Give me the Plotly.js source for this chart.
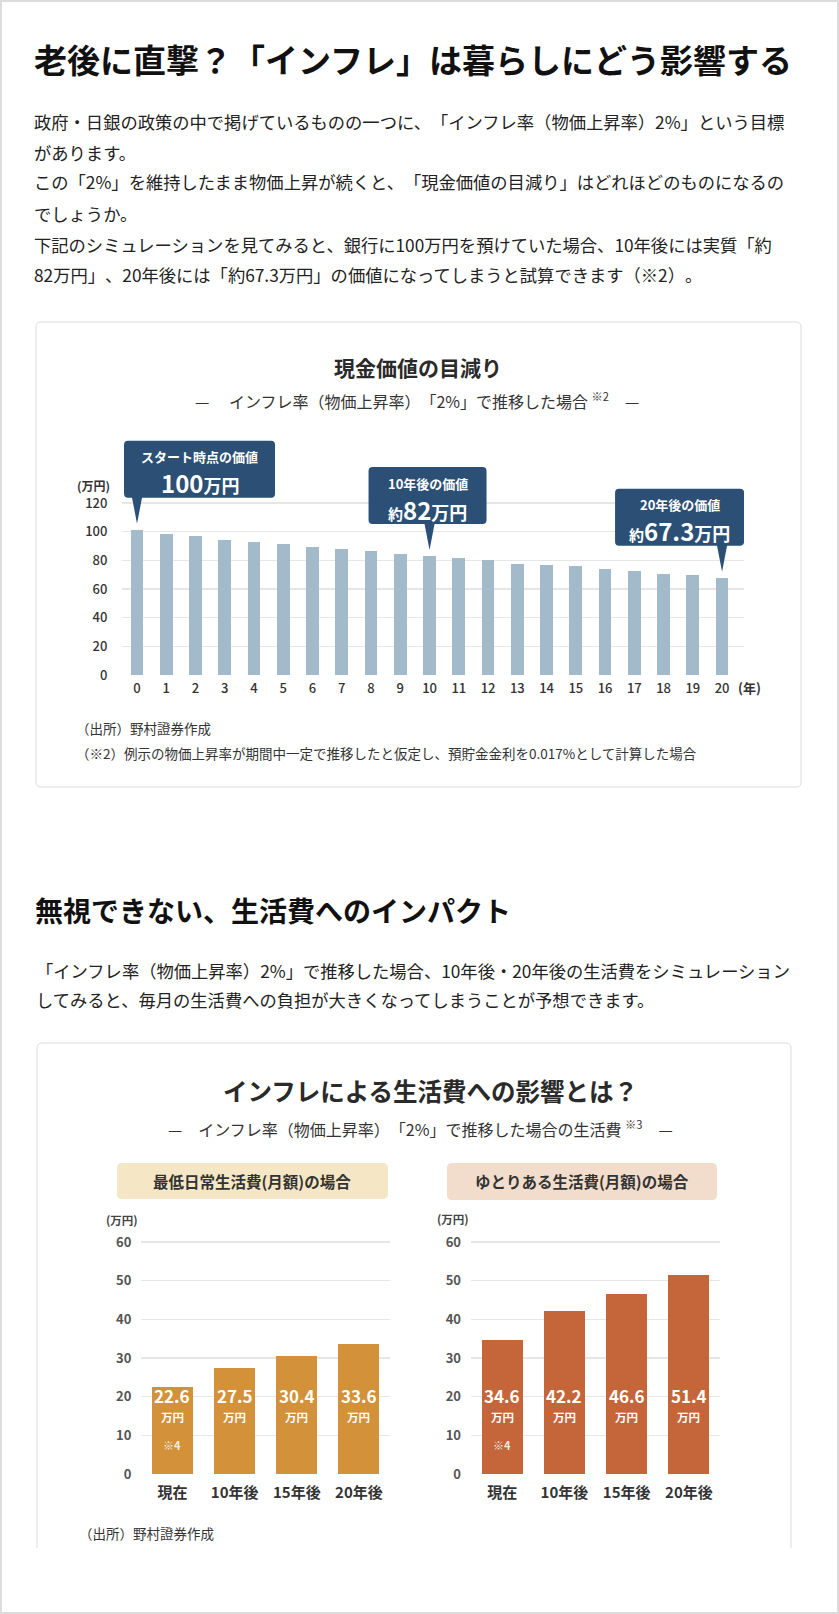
<!DOCTYPE html>
<html>
<head>
<meta charset="utf-8">
<script src="https://cdn.plot.ly/plotly-3.0.1.min.js"></script>
<style>
html,body{margin:0;padding:0;background:#fff;}
#page{width:839px;height:1614px;}
svg text{text-spacing-trim:space-all;}
</style>
</head>
<body>
<div id="page"></div>
<script>
// ---------------- data ----------------
const years = [0,1,2,3,4,5,6,7,8,9,10,11,12,13,14,15,16,17,18,19,20];
const yearTickLabels = ['0','1','2','3','4','5','6','7','8','9','10','11','12','13','14','15','16','17','18','19','20'];
const cashValue = [101.4,98.4,97.2,94.4,93.0,91.6,89.6,88.1,86.3,84.2,83.0,81.6,80.2,77.7,77.0,75.8,74.0,72.6,70.7,69.8,67.9];
const cashTicks = [0,20,40,60,80,100,120];
const cashTickLabels = ['0','20','40','60','80','100','120'];

const calloutYears = [0,10,20];
const calloutTitles = ['スタート時点の価値','10年後の価値','20年後の価値'];
const calloutPrefixes = ['','約','約'];
const calloutAmounts = ['100','82','67.3'];

const costCategories = ['現在','10年後','15年後','20年後'];
const minimumCost = [22.6,27.5,30.4,33.6];
const comfortableCost = [34.6,42.2,46.6,51.4];
const costNotes = ['※4','','',''];
const costTicks = [0,10,20,30,40,50,60];
const costTickLabels = ['0','10','20','30','40','50','60'];

// ---------------- helpers ----------------
const W = 839, H = 1614;
const X = p => p / W;
const Y = p => 1 - p / H;
const FONT = "'Noto Sans CJK JP', 'Noto Sans', sans-serif";

const annotations = [];
function txt(text, x, y, size, o) {
  o = o || {};
  annotations.push({
    text: text, xref: 'paper', yref: 'paper', x: X(x), y: Y(y),
    xanchor: o.anchor || 'left', yanchor: 'middle', showarrow: false,
    borderpad: 0, borderwidth: 0,
    font: {family: FONT, size: size, color: o.color || '#222', weight: o.weight || 400}
  });
}
function pixRectPath(x0, y0, x1, y1, r) {
  return `M ${x0+r},${-y0} L ${x1-r},${-y0} Q ${x1},${-y0} ${x1},${-(y0+r)} L ${x1},${-(y1-r)} Q ${x1},${-y1} ${x1-r},${-y1} L ${x0+r},${-y1} Q ${x0},${-y1} ${x0},${-(y1-r)} L ${x0},${-(y0+r)} Q ${x0},${-y0} ${x0+r},${-y0} Z`;
}
function paperShape(path, fill, line, layer) {
  return {type: 'path', xref: 'paper', yref: 'paper', xsizemode: 'pixel', ysizemode: 'pixel',
          xanchor: 0, yanchor: 1, path: path, fillcolor: fill, line: line, layer: layer || 'below'};
}

const shapes = [];
// page border
shapes.push({type: 'rect', xref: 'paper', yref: 'paper', x0: 0, x1: 1, y0: 0, y1: 1,
             line: {color: '#dcdcdc', width: 4}, fillcolor: 'rgba(0,0,0,0)', layer: 'above'});
// card 1
shapes.push(paperShape(pixRectPath(36, 322, 801, 787, 5), '#ffffff', {color: '#dcdcdc', width: 1}));
// card 2 (cut at the bottom)
shapes.push(paperShape(`M 37,-1548 L 37,-1048 Q 37,-1043 42,-1043 L 786,-1043 Q 791,-1043 791,-1048 L 791,-1548`,
                       'rgba(0,0,0,0)', {color: '#dcdcdc', width: 1}));
// panel header boxes
shapes.push(paperShape(pixRectPath(117, 1163, 388, 1199, 5), '#f5e7c6', {width: 0}));
shapes.push(paperShape(pixRectPath(447, 1163, 717, 1200, 5), '#f2ddcc', {width: 0}));

// callouts on chart 1 (pixel offsets relative to bar top)
const calloutGeom = [
  {l: -13, r: 138, cx: 62.5},
  {l: -61, r: 57, cx: -2},
  {l: -107, r: 22, cx: -42.5}
];
function calloutPath(l, r) {
  const t = 89, b = 32, rad = 4, pl = -5, pr = 5, tip = 6;
  return `M ${l+rad},${t} L ${r-rad},${t} Q ${r},${t} ${r},${t-rad} L ${r},${b+rad} Q ${r},${b} ${r-rad},${b} L ${pr},${b} L 0,${tip} L ${pl},${b} L ${l+rad},${b} Q ${l},${b} ${l},${b+rad} L ${l},${t-rad} Q ${l},${t} ${l+rad},${t} Z`;
}
calloutYears.forEach((yr, i) => {
  const v = cashValue[years.indexOf(yr)];
  const g = calloutGeom[i];
  shapes.push({type: 'path', xref: 'x', yref: 'y', xsizemode: 'pixel', ysizemode: 'pixel',
               xanchor: yr, yanchor: v, path: calloutPath(g.l, g.r),
               fillcolor: '#2c5075', line: {width: 0}, layer: 'above'});
  annotations.push({xref: 'x', yref: 'y', x: yr, y: v, xshift: g.cx, yshift: 73, showarrow: false,
    text: calloutTitles[i], borderpad: 0, borderwidth: 0,
    font: {family: FONT, size: 13, color: '#ffffff', weight: 700}});
  const pre = calloutPrefixes[i] ? `<span style="font-size:15px">${calloutPrefixes[i]}</span>` : '';
  annotations.push({xref: 'x', yref: 'y', x: yr, y: v, xshift: g.cx, yshift: 47, showarrow: false,
    text: pre + calloutAmounts[i] + '<span style="font-size:18px">万円</span>', borderpad: 0, borderwidth: 0,
    font: {family: FONT, size: 24, color: '#ffffff', weight: 700}});
});

// cost bar labels
function costLabels(xref, values) {
  values.forEach((v, i) => {
    annotations.push({xref: xref, yref: 'paper', x: costCategories[i], y: Y(1408), showarrow: false,
      text: v.toFixed(1), borderpad: 0, borderwidth: 0,
      font: {family: FONT, size: 17, color: '#ffffff', weight: 700}});
    annotations.push({xref: xref, yref: 'paper', x: costCategories[i], y: Y(1425), showarrow: false,
      text: '万円', borderpad: 0, borderwidth: 0,
      font: {family: FONT, size: 11.5, color: '#ffffff', weight: 700}});
    if (costNotes[i]) {
      annotations.push({xref: xref, yref: 'paper', x: costCategories[i], y: Y(1453), showarrow: false,
        text: costNotes[i], borderpad: 0, borderwidth: 0,
        font: {family: FONT, size: 11, color: 'rgba(255,255,255,0.85)', weight: 700}});
    }
  });
}
costLabels('x2', minimumCost);
costLabels('x3', comfortableCost);

// ---------------- page text ----------------
txt('老後に直撃？「インフレ」は暮らしにどう影響する', 34, 59, 33, {weight: 700, color: '#111'});
txt('政府・日銀の政策の中で掲げているものの一つに、「インフレ率（物価上昇率）2%」という目標', 34, 121, 17.3);
txt('があります。', 34, 152, 17.3);
txt('この「2%」を維持したまま物価上昇が続くと、「現金価値の目減り」はどれほどのものになるの', 34, 182, 17.3);
txt('でしょうか。', 34, 213, 17.3);
txt('下記のシミュレーションを見てみると、銀行に100万円を預けていた場合、10年後には実質「約', 34, 244, 17.3);
txt('82万円」、20年後には「約67.3万円」の価値になってしまうと試算できます（※2）。', 34, 275, 17.3);

txt('現金価値の目減り', 418, 367, 21, {anchor: 'center', weight: 700, color: '#2a2a2a'});
txt('—　 インフレ率（物価上昇率）「2%」で推移した場合 <sup>※2</sup>　—', 417, 400, 16, {anchor: 'center', color: '#333'});
txt('(万円)', 77, 485, 12, {weight: 700, color: '#333'});
txt('(年)', 738, 687, 13, {weight: 700, color: '#333'});
txt('（出所）野村證券作成', 76, 728, 13.5, {color: '#333'});
txt('（※2）例示の物価上昇率が期間中一定で推移したと仮定し、預貯金金利を0.017%として計算した場合', 76, 753, 13.5, {color: '#333'});

txt('無視できない、生活費へのインパクト', 35, 910, 28, {weight: 700, color: '#111'});
txt('「インフレ率（物価上昇率）2%」で推移した場合、10年後・20年後の生活費をシミュレーション', 36, 970, 17.3);
txt('してみると、毎月の生活費への負担が大きくなってしまうことが予想できます。', 36, 999, 17.3);

txt('インフレによる生活費への影響とは？', 430, 1090, 24.5, {anchor: 'center', weight: 700, color: '#2a2a2a'});
txt('—　インフレ率（物価上昇率）「2%」で推移した場合の生活費 <sup>※3</sup>　—', 420, 1128, 16, {anchor: 'center', color: '#333'});
txt('最低日常生活費(月額)の場合', 252, 1181, 15.5, {anchor: 'center', weight: 700, color: '#333'});
txt('ゆとりある生活費(月額)の場合', 582, 1181, 15.5, {anchor: 'center', weight: 700, color: '#333'});
txt('(万円)', 106, 1220, 11.5, {weight: 700, color: '#444'});
txt('(万円)', 437, 1219, 11.5, {weight: 700, color: '#444'});
txt('（出所）野村證券作成', 79, 1533, 13.5, {color: '#333'});

// ---------------- traces ----------------
const traces = [
  {type: 'bar', x: years, y: cashValue, xaxis: 'x', yaxis: 'y', width: 0.44,
   marker: {color: '#a3bacb'}, hoverinfo: 'skip'},
  {type: 'bar', x: costCategories, y: minimumCost, xaxis: 'x2', yaxis: 'y2', width: 0.66,
   marker: {color: '#d39139'}, hoverinfo: 'skip'},
  {type: 'bar', x: costCategories, y: comfortableCost, xaxis: 'x3', yaxis: 'y3', width: 0.66,
   marker: {color: '#c4663a'}, hoverinfo: 'skip'}
];

const gridCol = '#e6e6e6';
const layout = {
  width: W, height: H, autosize: false,
  margin: {l: 0, r: 0, t: 0, b: 0, pad: 0},
  paper_bgcolor: '#ffffff', plot_bgcolor: 'rgba(0,0,0,0)',
  showlegend: false, bargap: 0,
  font: {family: FONT},
  xaxis: {domain: [X(122.4), X(744)], range: [-0.5, 20.75], anchor: 'y',
          tickvals: years, ticktext: yearTickLabels, ticks: '', showgrid: false, zeroline: false,
          showline: false, ticklabelstandoff: 4, fixedrange: true,
          tickfont: {family: FONT, size: 13, color: '#333', weight: 500}},
  yaxis: {domain: [Y(675), Y(438.5)], range: [0, 165], anchor: 'x',
          tickvals: cashTicks, ticktext: cashTickLabels, ticks: '', showgrid: true,
          gridcolor: gridCol, gridwidth: 1.5, zeroline: false, showline: false,
          ticklabelstandoff: 14, fixedrange: true,
          tickfont: {family: FONT, size: 13, color: '#333', weight: 500}},
  xaxis2: {domain: [X(141.4), X(390)], anchor: 'y2', type: 'category', ticks: '',
           showgrid: false, zeroline: false, showline: false, ticklabelstandoff: 8, fixedrange: true,
           tickfont: {family: FONT, size: 15, color: '#333', weight: 700}},
  yaxis2: {domain: [Y(1474), Y(1240.8)], range: [0, 60.3], anchor: 'x2',
           tickvals: costTicks, ticktext: costTickLabels, ticks: '', showgrid: true,
           gridcolor: gridCol, gridwidth: 1.2, zeroline: false, showline: false,
           ticklabelstandoff: 9, fixedrange: true,
           tickfont: {family: FONT, size: 13, color: '#555', weight: 700}},
  xaxis3: {domain: [X(471), X(720)], anchor: 'y3', type: 'category', ticks: '',
           showgrid: false, zeroline: false, showline: false, ticklabelstandoff: 8, fixedrange: true,
           tickfont: {family: FONT, size: 15, color: '#333', weight: 700}},
  yaxis3: {domain: [Y(1474), Y(1240.8)], range: [0, 60.3], anchor: 'x3',
           tickvals: costTicks, ticktext: costTickLabels, ticks: '', showgrid: true,
           gridcolor: gridCol, gridwidth: 1.2, zeroline: false, showline: false,
           ticklabelstandoff: 9, fixedrange: true,
           tickfont: {family: FONT, size: 13, color: '#555', weight: 700}},
  shapes: shapes,
  annotations: annotations
};

Plotly.newPlot('page', traces, layout, {displayModeBar: false, staticPlot: true});
</script>
</body>
</html>
